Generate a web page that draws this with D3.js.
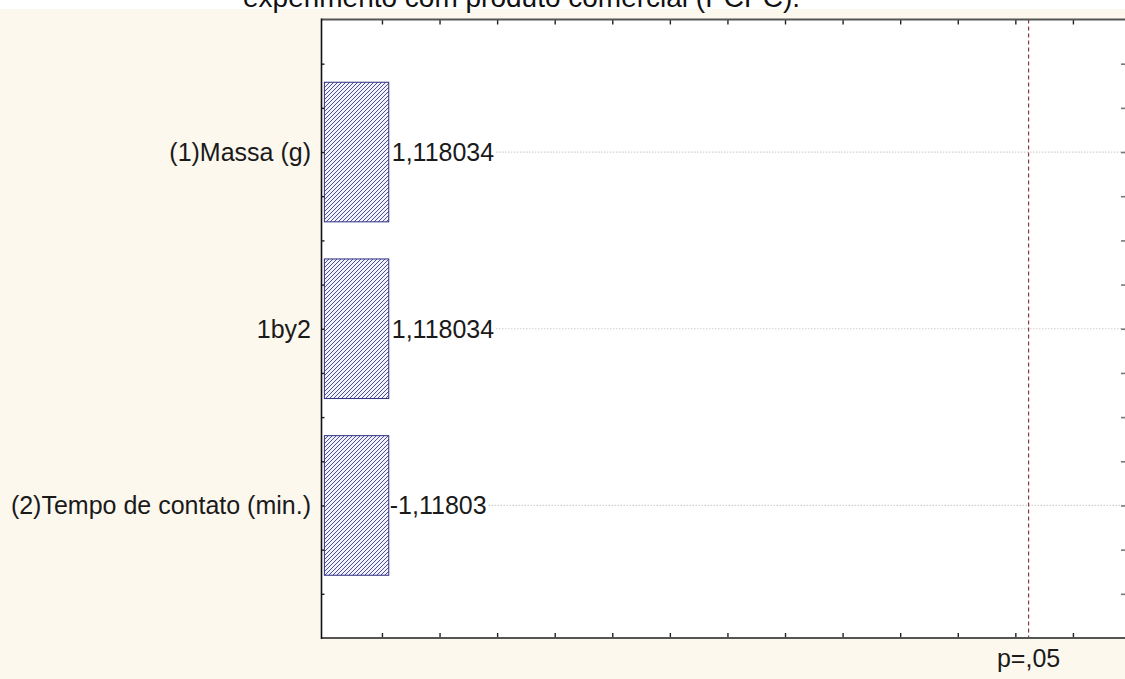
<!DOCTYPE html>
<html>
<head>
<meta charset="utf-8">
<script src="https://cdn.jsdelivr.net/npm/d3@7"></script>
<style>
  html, body { margin: 0; padding: 0; background: #ffffff; }
  svg { display: block; font-family: "Liberation Sans", Arial, sans-serif; }
</style>
</head>
<body>
<svg id="chart" width="1125" height="679"></svg>
<script>
// Pareto chart of standardized effects
const categories = ["(1)Massa (g)", "1by2", "(2)Tempo de contato (min.)"];
const effects = [1.118034, 1.118034, -1.11803];
const effectLabels = ["1,118034", "1,118034", "-1,11803"];
const xTickValues = [1, 2, 3, 4, 5, 6, 7, 8, 9, 10, 11, 12, 13];
const pCritical = 12.23;
const pLabel = "p=,05";
const caption = "experimento com produto comercial (PCPC).";

const W = 1125, H = 679;
const frame = { left: 321.5, top: 19.5, right: 1125, bottom: 638 };
const xUnit = 57.58;

const svg = d3.select("#chart");

// page and chart backgrounds
svg.append("rect").attr("x", 0).attr("y", 0).attr("width", W).attr("height", H).attr("fill", "#ffffff");
svg.append("rect").attr("x", 0).attr("y", 9).attr("width", W).attr("height", H - 9).attr("fill", "#fcf8ee");
svg.append("rect")
  .attr("x", frame.left).attr("y", frame.top)
  .attr("width", frame.right - frame.left).attr("height", frame.bottom - frame.top)
  .attr("fill", "#ffffff");

// caption above the chart (mostly above the top edge)
svg.append("text")
  .attr("x", 243).attr("y", 7)
  .attr("font-size", 28).attr("fill", "#111")
  .text(caption);

// scales
const xDomain = [-0.05, 14.1];
const x = d3.scaleLinear()
  .domain(xDomain)
  .range([frame.left, frame.left + (xDomain[1] - xDomain[0]) * xUnit]);

const y = d3.scaleBand()
  .domain(categories)
  .range([frame.top + 44.2, frame.bottom - 44.2])
  .paddingInner(0.21)
  .paddingOuter(0.105);

const yMinor = d3.scaleLinear().domain([0, 14]).range([frame.top, frame.bottom]);

// hatch pattern for the bars
const defs = svg.append("defs");
const pat = defs.append("pattern")
  .attr("id", "hatch")
  .attr("patternUnits", "userSpaceOnUse")
  .attr("width", 4).attr("height", 4);
pat.append("rect").attr("width", 4).attr("height", 4).attr("fill", "#f2f2fb");
pat.append("path")
  .attr("d", "M-1,1 l2,-2 M0,4 l4,-4 M3,5 l2,-2")
  .attr("stroke", "#47479a").attr("stroke-width", 0.95);

const labelFont = 25;
const barStart = Math.max(frame.left, x(0));

// bars
svg.append("g").selectAll("rect")
  .data(categories)
  .join("rect")
  .attr("x", barStart)
  .attr("y", d => y(d))
  .attr("width", (d, i) => x(Math.abs(effects[i])) - barStart)
  .attr("height", y.bandwidth())
  .attr("fill", "url(#hatch)")
  .attr("stroke", "#2f2f80")
  .attr("stroke-width", 1);

// value labels, then dotted grid lines through each bar's centre after the label
const labels = svg.append("g").selectAll("text")
  .data(categories)
  .join("text")
  .attr("x", (d, i) => x(Math.abs(effects[i])) + (effects[i] < 0 ? 1 : 3))
  .attr("y", d => y(d) + y.bandwidth() / 2)
  .attr("dy", "0.35em")
  .attr("font-size", labelFont)
  .attr("fill", "#1a1a1a")
  .text((d, i) => effectLabels[i]);

labels.each(function (d) {
  const end = +this.getAttribute("x") + this.getComputedTextLength() + 2;
  svg.insert("line", "text")
    .attr("x1", end).attr("x2", frame.right)
    .attr("y1", y(d) + y.bandwidth() / 2).attr("y2", y(d) + y.bandwidth() / 2)
    .attr("stroke", "#c4c4c4").attr("stroke-width", 1.2)
    .attr("stroke-dasharray", "1.2,1.8");
});

// category labels
svg.append("g").selectAll("text")
  .data(categories)
  .join("text")
  .attr("x", 311)
  .attr("y", d => y(d) + y.bandwidth() / 2)
  .attr("dy", "0.35em")
  .attr("text-anchor", "end")
  .attr("font-size", labelFont)
  .attr("fill", "#1a1a1a")
  .text(d => d);

// significance line
svg.append("line")
  .attr("x1", x(pCritical)).attr("x2", x(pCritical))
  .attr("y1", frame.top).attr("y2", frame.bottom)
  .attr("stroke", "#8a3c3c").attr("stroke-width", 1.2)
  .attr("stroke-dasharray", "4,3");

svg.append("text")
  .attr("x", x(pCritical)).attr("y", 667)
  .attr("text-anchor", "middle")
  .attr("font-size", labelFont)
  .attr("fill", "#1a1a1a")
  .text(pLabel);

// tick marks (inside the frame, no numbers)
const topAxis = d3.axisBottom(x).tickValues(xTickValues).tickSize(5).tickFormat("");
const bottomAxis = d3.axisTop(x).tickValues(xTickValues).tickSize(5).tickFormat("");
const minorVals = d3.range(1, 14);
const leftAxis = d3.axisRight(yMinor).tickValues(minorVals).tickSize(3).tickFormat("");
const rightAxis = d3.axisLeft(yMinor).tickValues(minorVals).tickSize(4).tickFormat("");

function styleAxis(g) {
  g.select(".domain").remove();
  g.selectAll(".tick line").attr("stroke", "#222").attr("stroke-width", 1.4);
}
svg.append("g").attr("transform", `translate(0,${frame.top})`).call(topAxis).call(styleAxis);
svg.append("g").attr("transform", `translate(0,${frame.bottom})`).call(bottomAxis).call(styleAxis);
svg.append("g").attr("transform", `translate(${frame.left},0)`).call(leftAxis).call(styleAxis);
svg.append("g").attr("transform", `translate(${frame.right},0)`).call(rightAxis)
  .call(styleAxis)
  .call(g => g.selectAll(".tick line").attr("stroke", "#777").attr("stroke-width", 1.6));

// frame lines
svg.append("line")
  .attr("x1", frame.left).attr("x2", frame.right)
  .attr("y1", frame.top).attr("y2", frame.top)
  .attr("stroke", "#555").attr("stroke-width", 2);
svg.append("line")
  .attr("x1", frame.left).attr("x2", frame.right)
  .attr("y1", frame.bottom).attr("y2", frame.bottom)
  .attr("stroke", "#555").attr("stroke-width", 2);
svg.append("line")
  .attr("x1", frame.left).attr("x2", frame.left)
  .attr("y1", frame.top - 1).attr("y2", frame.bottom + 1)
  .attr("stroke", "#111").attr("stroke-width", 1.6);
</script>
</body>
</html>
